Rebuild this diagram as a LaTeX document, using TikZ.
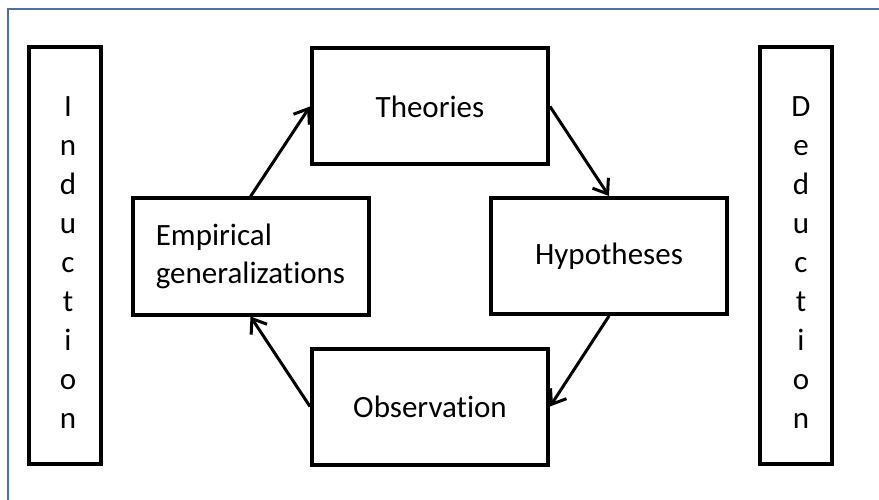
\documentclass[tikz,border=0pt]{standalone}
\usepackage{fontspec}
\setmainfont{Carlito}[Ligatures=NoCommon]
\usepackage{xcolor}
\usetikzlibrary{arrows.meta, positioning}
\definecolor{FrameBlue}{RGB}{79,113,160}

\begin{document}
\begin{tikzpicture}[x=1pt,y=-1pt,>={Straight Barb[length=13pt,width=19pt]},
        every node/.style={font=\fontsize{31}{38}\selectfont},
        stage/.style={draw, line width=4pt, minimum width=236pt, minimum height=116pt, inner sep=0pt},
        side/.style={draw, line width=4pt, minimum width=72pt, minimum height=417pt, inner sep=0pt},
        letters/.style={align=center, font=\fontsize{31}{39}\selectfont}]

  \useasboundingbox (0,0) rectangle (879,500);
  \clip (0,0) rectangle (879,500);
  \draw[FrameBlue, line width=2pt] (8,9) rectangle (950,560);

  % side columns
  \node[side] (ind) at (65,255.5) {};
  \node[side] (ded) at (795.5,255.5) {};
  \node[letters] (indtext) at (68,263) {I\\n\\d\\u\\c\\t\\i\\o\\n};
  \node[letters] (dedtext) at (801,263) {D\\e\\d\\u\\c\\t\\i\\o\\n};

  % the cycle
  \node[stage] (theo) at (430,106.5) {Theories};
  \node[stage] (emp)  at (250.5,256.5) [align=left] {Empirical\\generalizations};
  \node[stage] (hyp)  at (609,256) {Hypotheses};
  \node[stage] (obs)  at (430,406.5) {Observation};

  \path[->, line width=3pt] (emp.north) edge (theo.west)
            (theo.east) edge (hyp.north)
            (hyp.south) edge (obs.east)
            (obs.west) edge (emp.south);
\end{tikzpicture}
\end{document}
